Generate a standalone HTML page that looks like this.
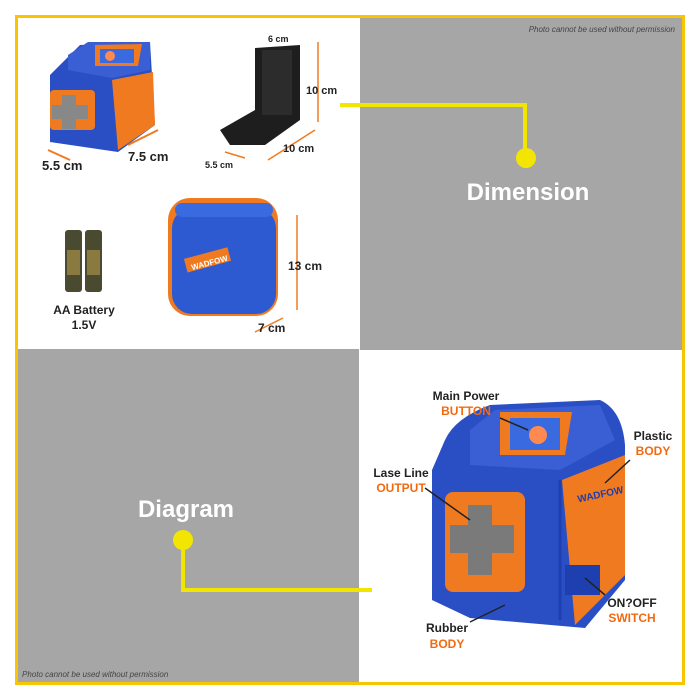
<!DOCTYPE html>
<html><head><style>
html,body{margin:0;padding:0;background:#fff}
svg{display:block}
text{font-family:"Liberation Sans",sans-serif}
</style></head><body>
<svg width="700" height="700" viewBox="0 0 700 700">
<rect x="0" y="0" width="700" height="700" fill="#fff"/>
<rect x="360" y="18" width="324" height="332" fill="#a7a6a7"/>
<rect x="18" y="349" width="341" height="334" fill="#a7a6a7"/>
<rect x="16.5" y="16.5" width="667" height="667" fill="none" stroke="#f9c400" stroke-width="3"/>
<text x="675" y="32" font-size="8" font-style="italic" fill="#444" text-anchor="end">Photo cannot be used without permission</text>
<text x="22" y="677" font-size="8" font-style="italic" fill="#444">Photo cannot be used without permission</text>

<polyline points="340,105 525,105 525,158" fill="none" stroke="#f2e600" stroke-width="4"/>
<circle cx="526" cy="158" r="10" fill="#f2e600"/>
<text x="528" y="200" font-size="24" font-weight="bold" fill="#fff" text-anchor="middle">Dimension</text>
<polyline points="183,540 183,590 372,590" fill="none" stroke="#f2e600" stroke-width="4"/>
<circle cx="183" cy="540" r="10" fill="#f2e600"/>
<text x="186" y="517" font-size="24" font-weight="bold" fill="#fff" text-anchor="middle">Diagram</text>

<!-- small cube -->
<path d="M50,75 L80,45 L150,42 L155,125 L118,152 L50,142 Z" fill="#2a4fc4"/>
<path d="M68,55 L88,42 L150,42 L150,70 L112,78 L68,70 Z" fill="#3a5fd4"/>
<path d="M95,45 L142,44 L138,66 L95,66 Z" fill="#f07a20"/>
<rect x="100" y="49" width="34" height="14" fill="#3a6ae0"/>
<circle cx="110" cy="56" r="5" fill="#ff8a50"/>
<path d="M112,80 L153,72 L155,125 L118,150 Z" fill="#f07a20"/>
<rect x="50" y="90" width="45" height="40" rx="4" fill="#f07a20"/>
<path d="M62,95 h14 v10 h12 v14 h-12 v10 h-14 v-10 h-10 v-14 h10 z" fill="#888"/>
<line x1="48" y1="150" x2="70" y2="160" stroke="#f07a20" stroke-width="2"/>
<line x1="128" y1="145" x2="158" y2="130" stroke="#f07a20" stroke-width="2"/>
<text x="42" y="170" font-size="13" font-weight="bold" fill="#222">5.5 cm</text>
<text x="128" y="161" font-size="13" font-weight="bold" fill="#222">7.5 cm</text>

<!-- bracket -->
<path d="M255,48 L300,45 L300,120 L265,145 L230,145 L220,130 L255,110 Z" fill="#1e1e1e"/>
<rect x="262" y="50" width="30" height="65" fill="#2c2c2c"/>
<line x1="318" y1="42" x2="318" y2="122" stroke="#f07a20" stroke-width="1.5"/>
<line x1="268" y1="160" x2="315" y2="130" stroke="#f07a20" stroke-width="1.5"/>
<line x1="225" y1="152" x2="245" y2="158" stroke="#f07a20" stroke-width="1.5"/>
<text x="268" y="42" font-size="9" font-weight="bold" fill="#222">6 cm</text>
<text x="306" y="94" font-size="11" font-weight="bold" fill="#222">10 cm</text>
<text x="283" y="152" font-size="11" font-weight="bold" fill="#222">10 cm</text>
<text x="205" y="168" font-size="9" font-weight="bold" fill="#222">5.5 cm</text>

<!-- battery -->
<rect x="65" y="230" width="17" height="62" rx="3" fill="#4a4a30"/>
<rect x="85" y="230" width="17" height="62" rx="3" fill="#4a4a30"/>
<rect x="67" y="250" width="13" height="25" fill="#8a7a40"/>
<rect x="87" y="250" width="13" height="25" fill="#8a7a40"/>
<text x="84" y="314" font-size="12" font-weight="bold" fill="#222" text-anchor="middle">AA Battery</text>
<text x="84" y="329" font-size="12" font-weight="bold" fill="#222" text-anchor="middle">1.5V</text>

<!-- case -->
<rect x="168" y="198" width="110" height="118" rx="22" fill="#f07a20"/>
<rect x="172" y="208" width="104" height="106" rx="20" fill="#2d5ad0"/>
<rect x="175" y="203" width="98" height="14" rx="7" fill="#3a6ae0"/>
<rect x="185" y="253" width="45" height="14" fill="#f07a20" transform="rotate(-15 207 260)"/>
<text x="190" y="266" font-size="8" font-weight="bold" fill="#fff" transform="rotate(-15 207 260)">WADFOW</text>
<line x1="297" y1="215" x2="297" y2="310" stroke="#f07a20" stroke-width="1.5"/>
<line x1="255" y1="332" x2="283" y2="318" stroke="#f07a20" stroke-width="1.5"/>
<text x="288" y="270" font-size="12" font-weight="bold" fill="#222">13 cm</text>
<text x="258" y="332" font-size="12" font-weight="bold" fill="#222">7 cm</text>

<!-- big cube -->
<path d="M445,440 Q455,418 490,405 L600,400 Q622,410 625,445 L625,580 L585,628 L470,618 L432,600 L432,470 Z" fill="#2a4fc4"/>
<path d="M470,430 L495,410 L600,405 L615,440 L560,470 L470,465 Z" fill="#3a5fd4"/>
<path d="M500,412 L572,412 L565,455 L500,455 Z" fill="#f07a20"/>
<rect x="510" y="418" width="50" height="32" fill="#3a6ae0"/>
<circle cx="538" cy="435" r="9" fill="#ff8a50"/>
<path d="M562,480 L625,455 L625,575 L575,625 Z" fill="#f07a20"/>
<path d="M560,480 L560,620" stroke="#1e3fb0" stroke-width="3"/>
<rect x="445" y="492" width="80" height="100" rx="8" fill="#f07a20"/>
<path d="M468,505 h24 v20 h22 v28 h-22 v22 h-24 v-22 h-18 v-28 h18 z" fill="#7a7a7a"/>
<rect x="565" y="565" width="35" height="30" fill="#1e3fb0"/>
<text x="578" y="500" font-size="10" font-weight="bold" fill="#1e3fb0" transform="rotate(-12 590 500)">WADFOW</text>
<text x="466" y="400" font-size="12" font-weight="bold" fill="#222" text-anchor="middle">Main Power</text>
<text x="466" y="415" font-size="12" font-weight="bold" fill="#f26a10" text-anchor="middle">BUTTON</text>
<line x1="500" y1="418" x2="528" y2="430" stroke="#222" stroke-width="1.5"/>
<text x="653" y="440" font-size="12" font-weight="bold" fill="#222" text-anchor="middle">Plastic</text>
<text x="653" y="455" font-size="12" font-weight="bold" fill="#f26a10" text-anchor="middle">BODY</text>
<line x1="630" y1="460" x2="605" y2="483" stroke="#222" stroke-width="1.5"/>
<text x="401" y="477" font-size="12" font-weight="bold" fill="#222" text-anchor="middle">Lase Line</text>
<text x="401" y="492" font-size="12" font-weight="bold" fill="#f26a10" text-anchor="middle">OUTPUT</text>
<line x1="425" y1="488" x2="470" y2="520" stroke="#222" stroke-width="1.5"/>
<text x="632" y="607" font-size="12" font-weight="bold" fill="#222" text-anchor="middle">ON?OFF</text>
<text x="632" y="622" font-size="12" font-weight="bold" fill="#f26a10" text-anchor="middle">SWITCH</text>
<line x1="605" y1="595" x2="585" y2="578" stroke="#222" stroke-width="1.5"/>
<text x="447" y="632" font-size="12" font-weight="bold" fill="#222" text-anchor="middle">Rubber</text>
<text x="447" y="648" font-size="12" font-weight="bold" fill="#f26a10" text-anchor="middle">BODY</text>
<line x1="470" y1="622" x2="505" y2="605" stroke="#222" stroke-width="1.5"/>
</svg>
</body></html>
